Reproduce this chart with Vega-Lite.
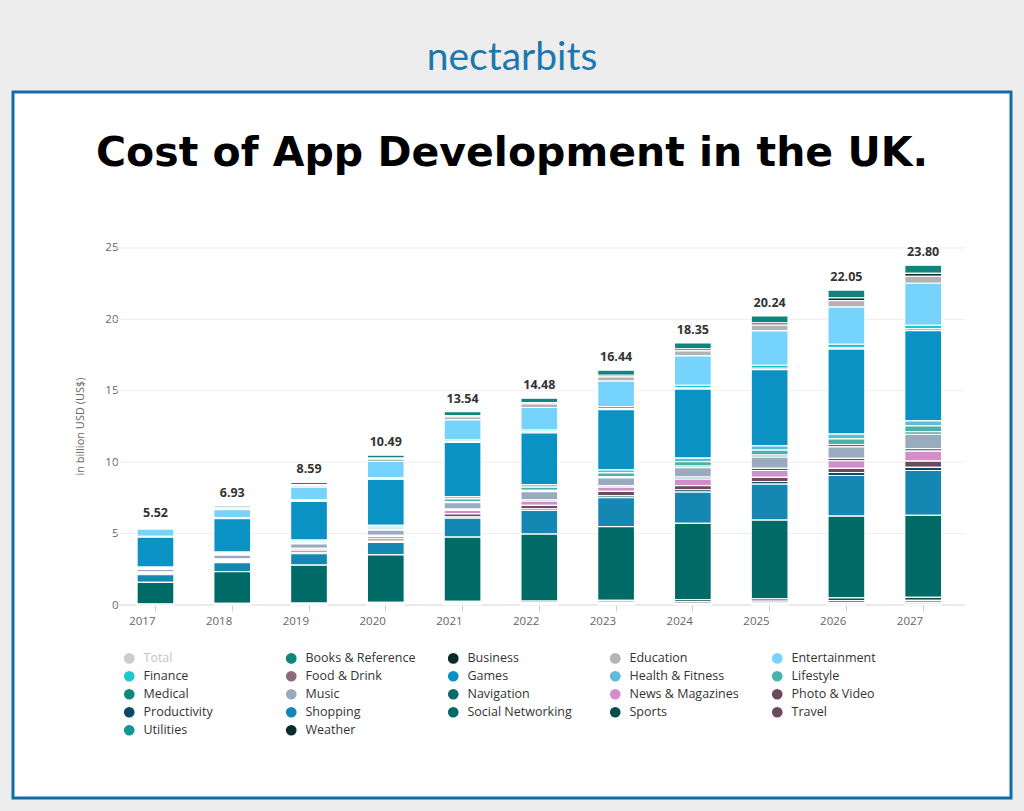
{
  "$schema": "https://vega.github.io/schema/vega-lite/v6.json",
  "width": 998,
  "height": 706,
  "autosize": "none",
  "padding": {"left": 13, "top": 92, "right": 13, "bottom": 13},
  "background": "#ededed",
  "config": {
    "view": {"fill": "#ffffff", "stroke": "#0f6fa5", "strokeWidth": 3},
    "font": "Open Sans"
  },
  "title": {
    "text": "\u00a0\u00a0\u00a0\u00a0\u00a0\u00a0\u00a0nectarbits",
    "subtitle": "Cost of App Development in the UK.",
    "anchor": "middle",
    "frame": "group",
    "offset": -82,
    "font": "Lato",
    "fontSize": 39,
    "fontWeight": 400,
    "color": "#1b78ad",
    "subtitleFont": "DejaVu Sans",
    "subtitleFontSize": 41,
    "subtitleFontWeight": "bold",
    "subtitleColor": "#000000",
    "subtitlePadding": 56
  },
  "datasets": {
    "ticks": [{"tick": 0}, {"tick": 5}, {"tick": 10}, {"tick": 15}, {"tick": 20}, {"tick": 25}],
    "totals": [
      {"year": "2017", "total": 5.52}, {"year": "2018", "total": 6.93}, {"year": "2019", "total": 8.59},
      {"year": "2020", "total": 10.49}, {"year": "2021", "total": 13.54}, {"year": "2022", "total": 14.48},
      {"year": "2023", "total": 16.44}, {"year": "2024", "total": 18.35}, {"year": "2025", "total": 20.24},
      {"year": "2026", "total": 22.05}, {"year": "2027", "total": 23.80}
    ],
    "segments": [
      {"year": "2017", "category": "Books & Reference", "value": 0.09},
      {"year": "2017", "category": "Business", "value": 0.03},
      {"year": "2017", "category": "Education", "value": 0.08},
      {"year": "2017", "category": "Entertainment", "value": 0.51},
      {"year": "2017", "category": "Finance", "value": 0.04},
      {"year": "2017", "category": "Food & Drink", "value": 0.02},
      {"year": "2017", "category": "Games", "value": 2.10},
      {"year": "2017", "category": "Health & Fitness", "value": 0.06},
      {"year": "2017", "category": "Lifestyle", "value": 0.07},
      {"year": "2017", "category": "Medical", "value": 0.03},
      {"year": "2017", "category": "Music", "value": 0.17},
      {"year": "2017", "category": "Navigation", "value": 0.03},
      {"year": "2017", "category": "News & Magazines", "value": 0.07},
      {"year": "2017", "category": "Photo & Video", "value": 0.07},
      {"year": "2017", "category": "Productivity", "value": 0.03},
      {"year": "2017", "category": "Shopping", "value": 0.54},
      {"year": "2017", "category": "Social Networking", "value": 1.51},
      {"year": "2017", "category": "Sports", "value": 0.03},
      {"year": "2017", "category": "Travel", "value": 0.02},
      {"year": "2017", "category": "Utilities", "value": 0.01},
      {"year": "2017", "category": "Weather", "value": 0.01},
      {"year": "2018", "category": "Books & Reference", "value": 0.12},
      {"year": "2018", "category": "Business", "value": 0.04},
      {"year": "2018", "category": "Education", "value": 0.10},
      {"year": "2018", "category": "Entertainment", "value": 0.55},
      {"year": "2018", "category": "Finance", "value": 0.05},
      {"year": "2018", "category": "Food & Drink", "value": 0.03},
      {"year": "2018", "category": "Games", "value": 2.34},
      {"year": "2018", "category": "Health & Fitness", "value": 0.08},
      {"year": "2018", "category": "Lifestyle", "value": 0.09},
      {"year": "2018", "category": "Medical", "value": 0.04},
      {"year": "2018", "category": "Music", "value": 0.25},
      {"year": "2018", "category": "Navigation", "value": 0.04},
      {"year": "2018", "category": "News & Magazines", "value": 0.09},
      {"year": "2018", "category": "Photo & Video", "value": 0.09},
      {"year": "2018", "category": "Productivity", "value": 0.05},
      {"year": "2018", "category": "Shopping", "value": 0.63},
      {"year": "2018", "category": "Social Networking", "value": 2.23},
      {"year": "2018", "category": "Sports", "value": 0.04},
      {"year": "2018", "category": "Travel", "value": 0.03},
      {"year": "2018", "category": "Utilities", "value": 0.02},
      {"year": "2018", "category": "Weather", "value": 0.02},
      {"year": "2019", "category": "Books & Reference", "value": 0.16},
      {"year": "2019", "category": "Business", "value": 0.05},
      {"year": "2019", "category": "Education", "value": 0.13},
      {"year": "2019", "category": "Entertainment", "value": 0.89},
      {"year": "2019", "category": "Finance", "value": 0.07},
      {"year": "2019", "category": "Food & Drink", "value": 0.03},
      {"year": "2019", "category": "Games", "value": 2.72},
      {"year": "2019", "category": "Health & Fitness", "value": 0.10},
      {"year": "2019", "category": "Lifestyle", "value": 0.11},
      {"year": "2019", "category": "Medical", "value": 0.05},
      {"year": "2019", "category": "Music", "value": 0.32},
      {"year": "2019", "category": "Navigation", "value": 0.05},
      {"year": "2019", "category": "News & Magazines", "value": 0.13},
      {"year": "2019", "category": "Photo & Video", "value": 0.13},
      {"year": "2019", "category": "Productivity", "value": 0.06},
      {"year": "2019", "category": "Shopping", "value": 0.80},
      {"year": "2019", "category": "Social Networking", "value": 2.65},
      {"year": "2019", "category": "Sports", "value": 0.05},
      {"year": "2019", "category": "Travel", "value": 0.04},
      {"year": "2019", "category": "Utilities", "value": 0.03},
      {"year": "2019", "category": "Weather", "value": 0.02},
      {"year": "2020", "category": "Books & Reference", "value": 0.20},
      {"year": "2020", "category": "Business", "value": 0.07},
      {"year": "2020", "category": "Education", "value": 0.17},
      {"year": "2020", "category": "Entertainment", "value": 1.13},
      {"year": "2020", "category": "Finance", "value": 0.08},
      {"year": "2020", "category": "Food & Drink", "value": 0.04},
      {"year": "2020", "category": "Games", "value": 3.23},
      {"year": "2020", "category": "Health & Fitness", "value": 0.12},
      {"year": "2020", "category": "Lifestyle", "value": 0.14},
      {"year": "2020", "category": "Medical", "value": 0.06},
      {"year": "2020", "category": "Music", "value": 0.38},
      {"year": "2020", "category": "Navigation", "value": 0.06},
      {"year": "2020", "category": "News & Magazines", "value": 0.18},
      {"year": "2020", "category": "Photo & Video", "value": 0.16},
      {"year": "2020", "category": "Productivity", "value": 0.08},
      {"year": "2020", "category": "Shopping", "value": 0.88},
      {"year": "2020", "category": "Social Networking", "value": 3.33},
      {"year": "2020", "category": "Sports", "value": 0.07},
      {"year": "2020", "category": "Travel", "value": 0.05},
      {"year": "2020", "category": "Utilities", "value": 0.03},
      {"year": "2020", "category": "Weather", "value": 0.03},
      {"year": "2021", "category": "Books & Reference", "value": 0.27},
      {"year": "2021", "category": "Business", "value": 0.09},
      {"year": "2021", "category": "Education", "value": 0.22},
      {"year": "2021", "category": "Entertainment", "value": 1.41},
      {"year": "2021", "category": "Finance", "value": 0.11},
      {"year": "2021", "category": "Food & Drink", "value": 0.05},
      {"year": "2021", "category": "Games", "value": 3.80},
      {"year": "2021", "category": "Health & Fitness", "value": 0.16},
      {"year": "2021", "category": "Lifestyle", "value": 0.19},
      {"year": "2021", "category": "Medical", "value": 0.08},
      {"year": "2021", "category": "Music", "value": 0.45},
      {"year": "2021", "category": "Navigation", "value": 0.08},
      {"year": "2021", "category": "News & Magazines", "value": 0.25},
      {"year": "2021", "category": "Photo & Video", "value": 0.20},
      {"year": "2021", "category": "Productivity", "value": 0.10},
      {"year": "2021", "category": "Shopping", "value": 1.33},
      {"year": "2021", "category": "Social Networking", "value": 4.50},
      {"year": "2021", "category": "Sports", "value": 0.09},
      {"year": "2021", "category": "Travel", "value": 0.07},
      {"year": "2021", "category": "Utilities", "value": 0.05},
      {"year": "2021", "category": "Weather", "value": 0.04},
      {"year": "2022", "category": "Books & Reference", "value": 0.30},
      {"year": "2022", "category": "Business", "value": 0.10},
      {"year": "2022", "category": "Education", "value": 0.25},
      {"year": "2022", "category": "Entertainment", "value": 1.58},
      {"year": "2022", "category": "Finance", "value": 0.13},
      {"year": "2022", "category": "Food & Drink", "value": 0.06},
      {"year": "2022", "category": "Games", "value": 3.63},
      {"year": "2022", "category": "Health & Fitness", "value": 0.18},
      {"year": "2022", "category": "Lifestyle", "value": 0.22},
      {"year": "2022", "category": "Medical", "value": 0.09},
      {"year": "2022", "category": "Music", "value": 0.57},
      {"year": "2022", "category": "Navigation", "value": 0.09},
      {"year": "2022", "category": "News & Magazines", "value": 0.30},
      {"year": "2022", "category": "Photo & Video", "value": 0.24},
      {"year": "2022", "category": "Productivity", "value": 0.11},
      {"year": "2022", "category": "Shopping", "value": 1.66},
      {"year": "2022", "category": "Social Networking", "value": 4.70},
      {"year": "2022", "category": "Sports", "value": 0.10},
      {"year": "2022", "category": "Travel", "value": 0.08},
      {"year": "2022", "category": "Utilities", "value": 0.05},
      {"year": "2022", "category": "Weather", "value": 0.04},
      {"year": "2023", "category": "Books & Reference", "value": 0.35},
      {"year": "2023", "category": "Business", "value": 0.12},
      {"year": "2023", "category": "Education", "value": 0.29},
      {"year": "2023", "category": "Entertainment", "value": 1.78},
      {"year": "2023", "category": "Finance", "value": 0.15},
      {"year": "2023", "category": "Food & Drink", "value": 0.07},
      {"year": "2023", "category": "Games", "value": 4.22},
      {"year": "2023", "category": "Health & Fitness", "value": 0.21},
      {"year": "2023", "category": "Lifestyle", "value": 0.25},
      {"year": "2023", "category": "Medical", "value": 0.10},
      {"year": "2023", "category": "Music", "value": 0.54},
      {"year": "2023", "category": "Navigation", "value": 0.11},
      {"year": "2023", "category": "News & Magazines", "value": 0.29},
      {"year": "2023", "category": "Photo & Video", "value": 0.32},
      {"year": "2023", "category": "Productivity", "value": 0.13},
      {"year": "2023", "category": "Shopping", "value": 2.02},
      {"year": "2023", "category": "Social Networking", "value": 5.17},
      {"year": "2023", "category": "Sports", "value": 0.12},
      {"year": "2023", "category": "Travel", "value": 0.09},
      {"year": "2023", "category": "Utilities", "value": 0.06},
      {"year": "2023", "category": "Weather", "value": 0.05},
      {"year": "2024", "category": "Books & Reference", "value": 0.41},
      {"year": "2024", "category": "Business", "value": 0.14},
      {"year": "2024", "category": "Education", "value": 0.35},
      {"year": "2024", "category": "Entertainment", "value": 2.06},
      {"year": "2024", "category": "Finance", "value": 0.18},
      {"year": "2024", "category": "Food & Drink", "value": 0.09},
      {"year": "2024", "category": "Games", "value": 4.84},
      {"year": "2024", "category": "Health & Fitness", "value": 0.25},
      {"year": "2024", "category": "Lifestyle", "value": 0.30},
      {"year": "2024", "category": "Medical", "value": 0.12},
      {"year": "2024", "category": "Music", "value": 0.66},
      {"year": "2024", "category": "Navigation", "value": 0.13},
      {"year": "2024", "category": "News & Magazines", "value": 0.46},
      {"year": "2024", "category": "Photo & Video", "value": 0.29},
      {"year": "2024", "category": "Productivity", "value": 0.16},
      {"year": "2024", "category": "Shopping", "value": 2.20},
      {"year": "2024", "category": "Social Networking", "value": 5.34},
      {"year": "2024", "category": "Sports", "value": 0.14},
      {"year": "2024", "category": "Travel", "value": 0.11},
      {"year": "2024", "category": "Utilities", "value": 0.07},
      {"year": "2024", "category": "Weather", "value": 0.05},
      {"year": "2025", "category": "Books & Reference", "value": 0.48},
      {"year": "2025", "category": "Business", "value": 0.16},
      {"year": "2025", "category": "Education", "value": 0.41},
      {"year": "2025", "category": "Entertainment", "value": 2.40},
      {"year": "2025", "category": "Finance", "value": 0.21},
      {"year": "2025", "category": "Food & Drink", "value": 0.10},
      {"year": "2025", "category": "Games", "value": 5.34},
      {"year": "2025", "category": "Health & Fitness", "value": 0.29},
      {"year": "2025", "category": "Lifestyle", "value": 0.35},
      {"year": "2025", "category": "Medical", "value": 0.14},
      {"year": "2025", "category": "Music", "value": 0.79},
      {"year": "2025", "category": "Navigation", "value": 0.15},
      {"year": "2025", "category": "News & Magazines", "value": 0.48},
      {"year": "2025", "category": "Photo & Video", "value": 0.29},
      {"year": "2025", "category": "Productivity", "value": 0.18},
      {"year": "2025", "category": "Shopping", "value": 2.52},
      {"year": "2025", "category": "Social Networking", "value": 5.52},
      {"year": "2025", "category": "Sports", "value": 0.16},
      {"year": "2025", "category": "Travel", "value": 0.12},
      {"year": "2025", "category": "Utilities", "value": 0.08},
      {"year": "2025", "category": "Weather", "value": 0.07},
      {"year": "2026", "category": "Books & Reference", "value": 0.54},
      {"year": "2026", "category": "Business", "value": 0.19},
      {"year": "2026", "category": "Education", "value": 0.46},
      {"year": "2026", "category": "Entertainment", "value": 2.60},
      {"year": "2026", "category": "Finance", "value": 0.23},
      {"year": "2026", "category": "Food & Drink", "value": 0.11},
      {"year": "2026", "category": "Games", "value": 5.95},
      {"year": "2026", "category": "Health & Fitness", "value": 0.33},
      {"year": "2026", "category": "Lifestyle", "value": 0.40},
      {"year": "2026", "category": "Medical", "value": 0.16},
      {"year": "2026", "category": "Music", "value": 0.81},
      {"year": "2026", "category": "Navigation", "value": 0.17},
      {"year": "2026", "category": "News & Magazines", "value": 0.53},
      {"year": "2026", "category": "Photo & Video", "value": 0.29},
      {"year": "2026", "category": "Productivity", "value": 0.21},
      {"year": "2026", "category": "Shopping", "value": 2.85},
      {"year": "2026", "category": "Social Networking", "value": 5.72},
      {"year": "2026", "category": "Sports", "value": 0.19},
      {"year": "2026", "category": "Travel", "value": 0.14},
      {"year": "2026", "category": "Utilities", "value": 0.09},
      {"year": "2026", "category": "Weather", "value": 0.08},
      {"year": "2027", "category": "Books & Reference", "value": 0.58},
      {"year": "2027", "category": "Business", "value": 0.20},
      {"year": "2027", "category": "Education", "value": 0.49},
      {"year": "2027", "category": "Entertainment", "value": 2.95},
      {"year": "2027", "category": "Finance", "value": 0.25},
      {"year": "2027", "category": "Food & Drink", "value": 0.12},
      {"year": "2027", "category": "Games", "value": 6.32},
      {"year": "2027", "category": "Health & Fitness", "value": 0.35},
      {"year": "2027", "category": "Lifestyle", "value": 0.42},
      {"year": "2027", "category": "Medical", "value": 0.17},
      {"year": "2027", "category": "Music", "value": 1.00},
      {"year": "2027", "category": "Navigation", "value": 0.18},
      {"year": "2027", "category": "News & Magazines", "value": 0.70},
      {"year": "2027", "category": "Photo & Video", "value": 0.43},
      {"year": "2027", "category": "Productivity", "value": 0.22},
      {"year": "2027", "category": "Shopping", "value": 3.14},
      {"year": "2027", "category": "Social Networking", "value": 5.75},
      {"year": "2027", "category": "Sports", "value": 0.20},
      {"year": "2027", "category": "Travel", "value": 0.15},
      {"year": "2027", "category": "Utilities", "value": 0.10},
      {"year": "2027", "category": "Weather", "value": 0.08}
    ]
  },
  "layer": [
    {
      "data": {"name": "ticks"},
      "mark": {"type": "rule", "strokeWidth": 1, "xOffset": -43, "x2Offset": 42},
      "encoding": {
        "x": {"datum": "2017", "type": "ordinal", "scale": {"type": "band", "domain": ["2017","2018","2019","2020","2021","2022","2023","2024","2025","2026","2027"], "paddingInner": 0, "paddingOuter": 1.2934, "align": 0.678}},
        "x2": {"datum": "2027"},
        "y": {"field": "tick", "type": "quantitative", "scale": {"domain": [-13.515, 35.924], "nice": false, "zero": false}},
        "color": {"condition": {"test": "datum.tick == 0", "value": "#cfd3da"}, "value": "#eeeeee"}
      }
    },
    {
      "data": {"name": "segments"},
      "mark": {"type": "bar", "width": {"band": 0.48}, "stroke": "#ffffff", "strokeWidth": 1.2},
      "encoding": {
        "x": {
          "field": "year", "type": "ordinal",
          "scale": {"type": "band", "domain": ["2017","2018","2019","2020","2021","2022","2023","2024","2025","2026","2027"], "paddingInner": 0, "paddingOuter": 1.2934, "align": 0.678},
          "axis": {"title": null, "labelAngle": 0, "domain": false, "ticks": true, "tickSize": 6, "tickColor": "#cccccc", "labelColor": "#666666", "labelFontSize": 11.5, "labelPadding": 10, "offset": -193, "grid": false}
        },
        "y": {
          "field": "value", "type": "quantitative", "aggregate": "sum", "stack": "zero",
          "scale": {"domain": [-13.515, 35.924], "nice": false, "zero": false},
          "axis": {"title": "in billion USD (US$)", "values": [0, 5, 10, 15, 20, 25], "grid": false, "domain": false, "ticks": false, "labelPadding": 4, "offset": -109, "labelColor": "#666666", "labelFontSize": 11.5, "titleColor": "#666666", "titleFontSize": 11, "titleFontWeight": "normal", "titleX": -42, "titleY": 334, "titleAngle": 270, "titleAlign": "center", "titleBaseline": "middle"}
        },
        "color": {
          "field": "category", "type": "nominal",
          "scale": {
            "domain": ["Total", "Books & Reference", "Business", "Education", "Entertainment", "Finance", "Food & Drink", "Games", "Health & Fitness", "Lifestyle", "Medical", "Music", "Navigation", "News & Magazines", "Photo & Video", "Productivity", "Shopping", "Social Networking", "Sports", "Travel", "Utilities", "Weather"],
            "range": ["#cccccc", "#10857e", "#0b2a2c", "#b3b3b3", "#76d3fc", "#1cc7cf", "#8d6a7e", "#0a92c4", "#5fbcd8", "#48b3ac", "#10897a", "#9aabc0", "#0b6b6b", "#d48dcb", "#6b4a5e", "#0b4a66", "#1488b2", "#006b66", "#0b4e48", "#6b4a5c", "#139593", "#0b2c2e"]
          },
          "legend": {
            "orient": "none", "legendX": 110, "legendY": 560, "columns": 5, "direction": "horizontal", "title": null,
            "symbolType": "circle", "symbolSize": 115, "symbolStrokeWidth": 0,
            "labelFontSize": 12.5, "labelColor": {"expr": "datum.label == 'Total' ? '#c4c4c4' : '#333333'"},
            "columnPadding": 31, "rowPadding": 5, "gridAlign": "all", "labelOffset": 8, "labelLimit": 200
          }
        },
        "order": {"field": "category", "sort": "descending"}
      }
    },
    {
      "data": {"name": "totals"},
      "mark": {"type": "text", "baseline": "bottom", "dy": -6, "fontSize": 12.5, "fontWeight": "bold", "color": "#333333"},
      "encoding": {
        "x": {"field": "year", "type": "ordinal", "scale": {"type": "band", "domain": ["2017","2018","2019","2020","2021","2022","2023","2024","2025","2026","2027"], "paddingInner": 0, "paddingOuter": 1.2934, "align": 0.678}},
        "y": {"field": "total", "type": "quantitative", "scale": {"domain": [-13.515, 35.924], "nice": false, "zero": false}},
        "text": {"field": "total", "type": "quantitative", "format": ".2f"}
      }
    }
  ]
}
